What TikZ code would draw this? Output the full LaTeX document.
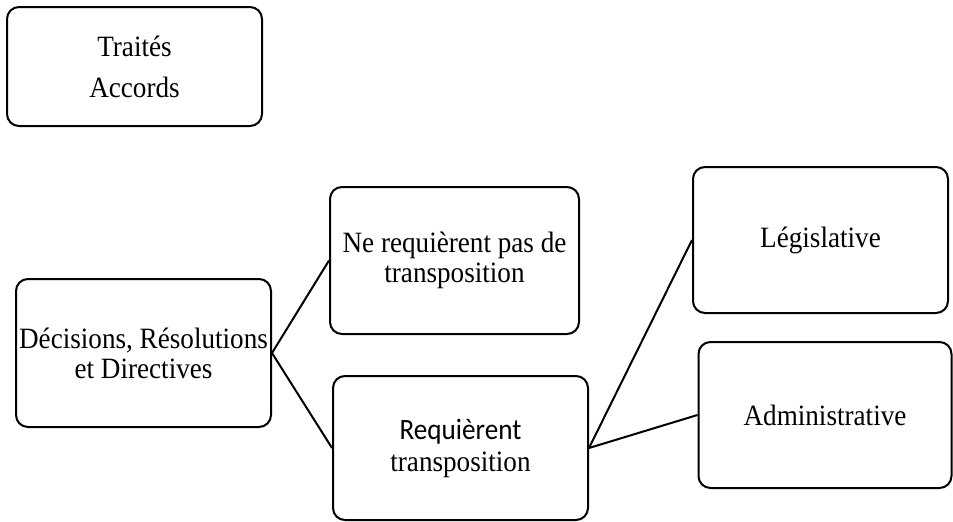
\documentclass[tikz,border=0pt]{standalone}
\usepackage{fontspec}
\setmainfont{Liberation Serif}[FakeStretch=0.92]
\newfontfamily\calib{Carlito}[FakeStretch=0.92]
\begin{document}
\begin{tikzpicture}[x=1pt,y=-1pt,
  box/.style={draw=black, line width=2pt, rounded corners=12pt, inner sep=0pt,
    align=center, font=\fontsize{29.5}{30}\selectfont},
  link/.style={draw=black, line width=2pt}]
\useasboundingbox (0,0) rectangle (953,522);
\node[box, minimum width=255pt, minimum height=119pt] (traites) at (134.5,66.5) {Traités\\[11pt]Accords};
\node[box, minimum width=255pt, minimum height=148pt] (decisions) at (143.5,353) {Décisions, Résolutions\\et Directives};
\node[box, minimum width=249pt, minimum height=147pt] (nereq) at (454.5,260.5) {Ne requièrent pas de\\transposition};
\node[box, minimum width=255pt, minimum height=144pt] (req) at (460.5,448) {{\calib Requièrent}\\[2pt]transposition};
\node[box, minimum width=255pt, minimum height=146pt] (legis) at (820.5,240) {Législative};
\node[box, minimum width=253pt, minimum height=146pt] (admin) at (825,415) {Administrative};
\draw[link] (decisions.east) -- (nereq.west);
\draw[link] (decisions.east) -- (req.west);
\draw[link] (req.east) -- (legis.west);
\draw[link] (req.east) -- (admin.west);
\end{tikzpicture}
\end{document}
